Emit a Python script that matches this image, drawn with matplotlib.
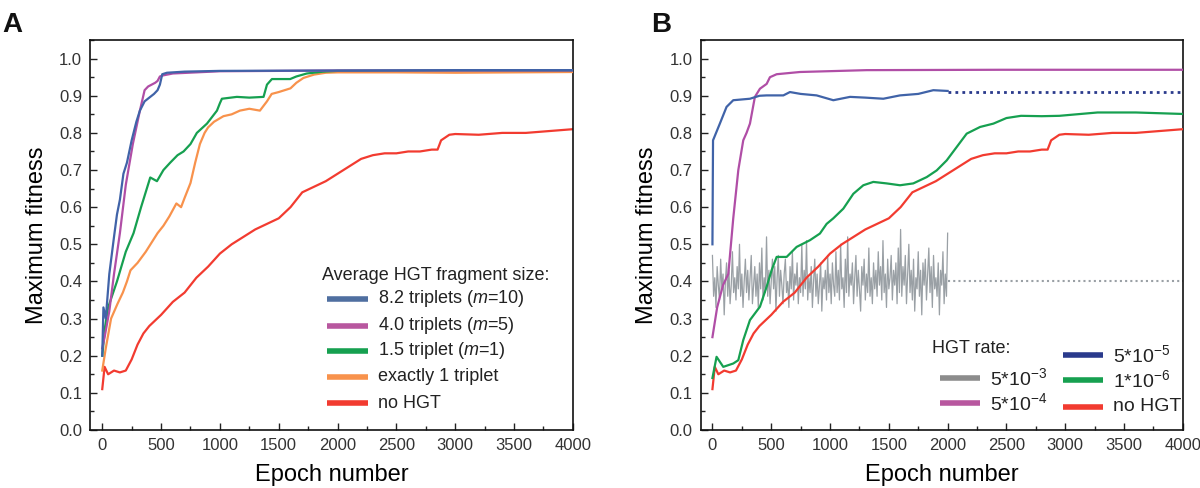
import matplotlib
matplotlib.use("Agg")
import matplotlib.pyplot as plt
from matplotlib.ticker import MultipleLocator, FormatStrFormatter

# ---------------- data ----------------
# Panel A
a_blue_x = [0, 10, 30, 60, 100, 125, 150, 180, 210, 250, 290, 320, 360, 400, 440, 470, 490, 510, 550, 700, 1000, 2000, 3000, 4000]
a_blue_y = [0.20, 0.33, 0.30, 0.42, 0.52, 0.58, 0.62, 0.69, 0.72, 0.78, 0.83, 0.86, 0.885, 0.895, 0.905, 0.915, 0.93, 0.958, 0.962, 0.965, 0.967, 0.968, 0.969, 0.969]

a_purple_x = [0, 20, 60, 100, 150, 200, 260, 320, 360, 390, 420, 450, 470, 490, 520, 600, 800, 1000, 2000, 4000]
a_purple_y = [0.22, 0.25, 0.32, 0.42, 0.53, 0.66, 0.77, 0.86, 0.915, 0.925, 0.93, 0.935, 0.94, 0.952, 0.955, 0.96, 0.963, 0.966, 0.968, 0.968]

a_green_x = [0, 25, 50, 125, 200, 266, 330, 408, 465, 520, 578, 640, 691, 750, 804, 890, 975, 1000, 1017, 1144, 1250, 1371, 1400, 1442, 1500, 1597, 1650, 1739, 1880, 2000, 3000, 4000]
a_green_y = [0.20, 0.28, 0.33, 0.40, 0.48, 0.53, 0.60, 0.68, 0.67, 0.70, 0.72, 0.74, 0.75, 0.77, 0.80, 0.825, 0.86, 0.88, 0.892, 0.897, 0.895, 0.897, 0.93, 0.945, 0.945, 0.945, 0.952, 0.96, 0.965, 0.967, 0.968, 0.968]

a_orange_x = [0, 30, 75, 130, 175, 210, 240, 300, 370, 430, 470, 520, 570, 630, 670, 700, 750, 790, 830, 870, 900, 950, 1030, 1100, 1170, 1250, 1340, 1400, 1440, 1500, 1600, 1650, 1710, 1800, 1900, 2000, 2500, 3000, 3500, 4000]
a_orange_y = [0.16, 0.22, 0.30, 0.34, 0.37, 0.40, 0.43, 0.45, 0.48, 0.51, 0.53, 0.55, 0.575, 0.61, 0.60, 0.625, 0.665, 0.72, 0.77, 0.80, 0.815, 0.83, 0.845, 0.85, 0.86, 0.865, 0.86, 0.885, 0.905, 0.91, 0.92, 0.935, 0.948, 0.957, 0.962, 0.963, 0.963, 0.962, 0.963, 0.964]

# "no HGT" (same run in both panels)
nohgt_x = [0, 20, 50, 100, 150, 200, 250, 300, 350, 400, 500, 600, 700, 800, 900, 1000, 1100, 1200, 1300, 1400, 1500, 1600, 1700, 1800, 1900, 2000, 2100, 2200, 2300, 2400, 2500, 2600, 2700, 2800, 2850, 2880, 2950, 3000, 3200, 3400, 3600, 3800, 4000]
nohgt_y = [0.11, 0.17, 0.15, 0.16, 0.155, 0.16, 0.19, 0.23, 0.26, 0.28, 0.31, 0.345, 0.37, 0.41, 0.44, 0.475, 0.50, 0.52, 0.54, 0.555, 0.57, 0.60, 0.64, 0.655, 0.67, 0.69, 0.71, 0.73, 0.74, 0.745, 0.745, 0.75, 0.75, 0.755, 0.755, 0.78, 0.795, 0.797, 0.795, 0.80, 0.80, 0.805, 0.81]

# Panel B
b_gray_x = list(range(0, 2001, 10))
b_gray_y = [0.47, 0.36, 0.41, 0.33, 0.44, 0.39, 0.35, 0.46, 0.38, 0.42, 0.31, 0.40, 0.45, 0.36, 0.43, 0.34, 0.39, 0.48, 0.37, 0.41,
            0.35, 0.44, 0.38, 0.50, 0.36, 0.42, 0.33, 0.40, 0.46, 0.37, 0.43, 0.35, 0.41, 0.47, 0.34, 0.39, 0.44, 0.36, 0.42, 0.33,
            0.45, 0.38, 0.49, 0.35, 0.41, 0.37, 0.52, 0.36, 0.43, 0.34, 0.40, 0.46, 0.38, 0.44, 0.32, 0.41, 0.47, 0.36, 0.43, 0.39,
            0.34, 0.42, 0.46, 0.37, 0.40, 0.33, 0.44, 0.38, 0.48, 0.35, 0.42, 0.39, 0.45, 0.34, 0.41, 0.37, 0.50, 0.36, 0.43, 0.38,
            0.51, 0.35, 0.41, 0.37, 0.44, 0.33, 0.40, 0.46, 0.36, 0.42, 0.34, 0.39, 0.45, 0.32, 0.41, 0.38, 0.43, 0.35, 0.47, 0.37,
            0.42, 0.34, 0.45, 0.39, 0.36, 0.48, 0.37, 0.43, 0.35, 0.50, 0.38, 0.41, 0.33, 0.46, 0.37, 0.52, 0.36, 0.42, 0.39, 0.45,
            0.34, 0.41, 0.47, 0.36, 0.43, 0.38, 0.32, 0.44, 0.39, 0.46, 0.35, 0.42, 0.37, 0.49, 0.36, 0.41, 0.34, 0.45, 0.38, 0.43,
            0.36, 0.48, 0.39, 0.44, 0.35, 0.51, 0.37, 0.42, 0.33, 0.46, 0.38, 0.41, 0.47, 0.35, 0.43, 0.39, 0.45, 0.34, 0.49, 0.37,
            0.54, 0.36, 0.44, 0.39, 0.47, 0.34, 0.42, 0.50, 0.37, 0.43, 0.35, 0.46, 0.32, 0.41, 0.38, 0.48, 0.36, 0.43, 0.31, 0.45,
            0.39, 0.46, 0.35, 0.42, 0.49, 0.37, 0.44, 0.33, 0.47, 0.38, 0.41, 0.36, 0.45, 0.31, 0.43, 0.39, 0.48, 0.34, 0.42, 0.36,
            0.53]
b_gray_ext_x = [2000, 4000]
b_gray_ext_y = [0.40, 0.40]

b_purple_x = [0, 40, 90, 135, 177, 220, 262, 290, 319, 361, 404, 461, 489, 546, 744, 1311, 2446, 4000]
b_purple_y = [0.25, 0.33, 0.39, 0.42, 0.57, 0.70, 0.78, 0.80, 0.825, 0.897, 0.919, 0.932, 0.95, 0.958, 0.964, 0.969, 0.970, 0.970]

b_blue_x = [0, 5, 63, 120, 177, 319, 400, 461, 603, 659, 750, 886, 1028, 1170, 1300, 1453, 1595, 1750, 1878, 2000]
b_blue_y = [0.50, 0.78, 0.825, 0.87, 0.888, 0.892, 0.90, 0.901, 0.901, 0.91, 0.905, 0.901, 0.888, 0.897, 0.895, 0.892, 0.901, 0.905, 0.915, 0.913]
b_blue_ext_x = [2000, 4000]
b_blue_ext_y = [0.91, 0.91]

b_green_x = [0, 35, 92, 177, 220, 262, 319, 404, 461, 503, 546, 631, 716, 829, 914, 971, 1028, 1113, 1198, 1283, 1368, 1481, 1595, 1708, 1822, 1907, 1992, 2077, 2162, 2276, 2389, 2500, 2624, 2800, 2950, 3275, 3600, 4000]
b_green_y = [0.14, 0.197, 0.17, 0.179, 0.188, 0.242, 0.296, 0.332, 0.386, 0.43, 0.466, 0.466, 0.493, 0.511, 0.529, 0.555, 0.57, 0.596, 0.636, 0.659, 0.668, 0.664, 0.659, 0.664, 0.681, 0.699, 0.726, 0.762, 0.798, 0.816, 0.825, 0.84, 0.846, 0.845, 0.846, 0.855, 0.855, 0.851]

a_labels = ["8.2 triplets ($\\mathit{m}$=10)", "4.0 triplets ($\\mathit{m}$=5)",
            "1.5 triplet ($\\mathit{m}$=1)", "exactly 1 triplet", "no HGT"]
b_labels_col1 = ["5*10$^{-3}$", "5*10$^{-4}$"]
b_labels_col2 = ["5*10$^{-5}$", "1*10$^{-6}$", "no HGT"]

# ---------------- style ----------------
BLUE = "#4063a8"
PURPLE = "#b04ea6"
GREEN = "#16a050"
ORANGE = "#f8924c"
RED = "#f23b30"
GRAY = "#9aa0a5"
NAVY = "#2a3a8c"

plt.rcParams["font.family"] = ["Liberation Sans", "DejaVu Sans"]
plt.rcParams["mathtext.fontset"] = "custom"
plt.rcParams["mathtext.rm"] = "Liberation Sans"
plt.rcParams["mathtext.it"] = "Liberation Sans:italic"

fig = plt.figure(figsize=(12, 4.88), dpi=100)
axA = fig.add_axes([0.0754, 0.1189, 0.402, 0.799])
axB = fig.add_axes([0.5839, 0.1189, 0.4018, 0.799])

fam = ["Liberation Sans", "DejaVu Sans"]

for ax in (axA, axB):
    ax.set_xlim(-100, 4000)
    ax.set_ylim(0, 1.05)
    ax.xaxis.set_major_locator(MultipleLocator(500))
    ax.xaxis.set_minor_locator(MultipleLocator(250))
    ax.yaxis.set_major_locator(MultipleLocator(0.1))
    ax.yaxis.set_minor_locator(MultipleLocator(0.05))
    ax.yaxis.set_major_formatter(FormatStrFormatter("%.1f"))
    ax.tick_params(which="both", direction="in", top=False, right=False, width=1.0, colors="#222222")
    ax.tick_params(which="major", length=5, pad=6, labelsize=12)
    ax.tick_params(which="minor", length=3)
    for sp in ax.spines.values():
        sp.set_linewidth(1.2)
        sp.set_color("#111111")
    for lab in ax.get_xticklabels() + ax.get_yticklabels():
        lab.set_color("#333333")
    ax.set_xlabel("Epoch number", fontsize=17, labelpad=8)
    ax.set_ylabel("Maximum fitness", fontsize=17, labelpad=8)

# ---- Panel A lines ----
lw = 1.6
axA.plot(nohgt_x, nohgt_y, color=RED, lw=lw, zorder=2)
axA.plot(a_orange_x, a_orange_y, color=ORANGE, lw=lw, zorder=3)
axA.plot(a_green_x, a_green_y, color=GREEN, lw=lw, zorder=4)
axA.plot(a_purple_x, a_purple_y, color=PURPLE, lw=lw, zorder=5)
axA.plot(a_blue_x, a_blue_y, color=BLUE, lw=lw, zorder=6)

# ---- Panel A legend (manual) ----
axA.text(0.48, 0.397, "Average HGT fragment size:", transform=axA.transAxes,
         fontsize=13, va="center", ha="left", color="#222222")
a_colors = ["#4f6fa0", "#b8579f", GREEN, ORANGE, RED]
a_rows = [0.337, 0.267, 0.203, 0.136, 0.069]
for c, lab, yy in zip(a_colors, a_labels, a_rows):
    axA.plot([0.491, 0.576], [yy, yy], transform=axA.transAxes, color=c, lw=4, solid_capstyle="butt")
    axA.text(0.596, yy, lab, transform=axA.transAxes, fontsize=13, va="center", ha="left", color="#222222")

# ---- Panel B lines ----
axB.plot(b_gray_x, b_gray_y, color=GRAY, lw=0.9, zorder=2)
axB.plot(b_gray_ext_x, b_gray_ext_y, color=GRAY, lw=1.5, ls=(0, (1, 1.5)), zorder=2)
axB.plot(nohgt_x, nohgt_y, color=RED, lw=lw, zorder=3)
axB.plot(b_green_x, b_green_y, color=GREEN, lw=lw, zorder=4)
axB.plot(b_purple_x, b_purple_y, color=PURPLE, lw=lw, zorder=5)
axB.plot(b_blue_x, b_blue_y, color=BLUE, lw=lw, zorder=6)
axB.plot(b_blue_ext_x, b_blue_ext_y, color=NAVY, lw=2.0, ls=(0, (1, 1.5)), zorder=6)

# ---- Panel B legend (manual) ----
axB.text(0.48, 0.21, "HGT rate:", transform=axB.transAxes, fontsize=13, va="center", ha="left", color="#222222")
for c, lab, yy in zip(["#8c8c8c", "#b8579f"], b_labels_col1, [0.133, 0.069]):
    axB.plot([0.497, 0.580], [yy, yy], transform=axB.transAxes, color=c, lw=4, solid_capstyle="butt")
    axB.text(0.600, yy, lab, transform=axB.transAxes, fontsize=14, va="center", ha="left", color="#222222")
for c, lab, yy in zip([NAVY, GREEN, RED], b_labels_col2, [0.192, 0.128, 0.059]):
    axB.plot([0.752, 0.835], [yy, yy], transform=axB.transAxes, color=c, lw=4, solid_capstyle="butt")
    axB.text(0.855, yy, lab, transform=axB.transAxes, fontsize=14, va="center", ha="left", color="#222222")

# panel letters
fig.text(0.002, 0.975, "A", fontsize=20, fontweight="bold", va="top", ha="left", color="#111111")
fig.text(0.543, 0.975, "B", fontsize=20, fontweight="bold", va="top", ha="left", color="#111111")

fig.savefig("out.png", dpi=100)
